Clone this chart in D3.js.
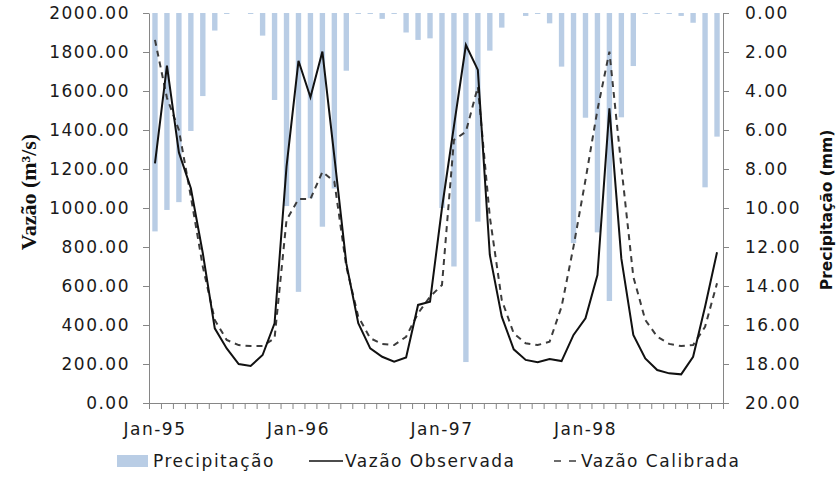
<!DOCTYPE html>
<html>
<head>
<meta charset="utf-8">
<script src="https://cdn.jsdelivr.net/npm/d3@7"></script>
<style>
  body { margin: 0; background: #fff; }
  #chart { width: 837px; height: 478px; }
  .tick text { font-family: "DejaVu Sans", sans-serif; font-size: 17px; letter-spacing: 1.5px; fill: #1a1a1a; }
  .legend text { font-family: "DejaVu Sans", sans-serif; font-size: 17px; letter-spacing: 1.5px; fill: #1a1a1a; }
</style>
</head>
<body>
<div id="chart"></div>
<script>
// Monthly series, Jan-95 .. Dec-98
const months = Array.from({ length: 48 }, (_, i) => i);
const tickLabels = ['Jan-95', 'Jan-96', 'Jan-97', 'Jan-98'];
const tickMonths = [0, 12, 24, 36];

const precipitacao = [
  11.2, 10.1, 9.7, 6.05, 4.26, 0.9, 0.05, 0, 0.05, 1.16, 4.46, 9.9,
  14.3, 9.5, 10.96, 9.0, 2.96, 0.05, 0.05, 0.3, 0.05, 1.0, 1.38, 1.3,
  10.0, 13.0, 17.9, 10.7, 1.93, 0.75, 0, 0.15, 0.05, 0.53, 2.75, 11.8,
  5.37, 11.25, 14.77, 5.35, 2.72, 0.05, 0.05, 0.05, 0.15, 0.5, 8.94, 6.34
];

const vazaoObservada = [
  1229, 1730, 1285, 1101, 768, 383, 280, 200, 190, 246, 409, 1212,
  1755, 1568, 1802, 1263, 716, 409, 280, 237, 212, 234, 503, 520,
  1000, 1420, 1836, 1708, 759, 443, 275, 221, 209, 226, 215, 349,
  434, 656, 1511, 740, 349, 229, 169, 152, 147, 237, 494, 773
];

const vazaoCalibrada = [
  1862, 1565, 1400, 1058, 699, 426, 323, 297, 292, 292, 332, 938,
  1046, 1046, 1186, 1135, 699, 443, 332, 303, 297, 340, 460, 545,
  605, 1349, 1391, 1622, 955, 528, 357, 306, 297, 314, 494, 802,
  1144, 1503, 1802, 1212, 648, 426, 340, 303, 292, 297, 391, 614
];

const vazaoTicks = d3.range(0, 2001, 200);
const precTicks = d3.range(0, 21, 2);

const svg = d3.select('#chart')
  .append('svg')
  .attr('width', 837)
  .attr('height', 478);

const plot = { left: 149, right: 723, top: 13, bottom: 403 };

// Scales
const x = d3.scaleBand()
  .domain(months)
  .range([plot.left, plot.right])
  .paddingInner(0.55)
  .paddingOuter(0.275);

const xEdges = d3.scaleLinear()
  .domain([0, months.length])
  .range([plot.left, plot.right]);

const yLeft = d3.scaleLinear()
  .domain([0, 2000])
  .range([plot.bottom, plot.top]);

const yRight = d3.scaleLinear()
  .domain([0, 20])
  .range([plot.top, plot.bottom]);

const cx = i => x(i) + x.bandwidth() / 2;

// Precipitation bars hanging from the top
svg.append('g')
  .selectAll('rect')
  .data(precipitacao)
  .join('rect')
  .attr('x', (d, i) => x(i))
  .attr('width', x.bandwidth())
  .attr('y', yRight(0))
  .attr('height', d => yRight(d) - yRight(0))
  .attr('fill', '#b9cde5');

// Lines
const line = d3.line()
  .x((d, i) => cx(i))
  .y(d => yLeft(d));

svg.append('path')
  .datum(vazaoCalibrada)
  .attr('d', line)
  .attr('fill', 'none')
  .attr('stroke', '#3c3c3c')
  .attr('stroke-width', 2)
  .attr('stroke-dasharray', '6,5');

svg.append('path')
  .datum(vazaoObservada)
  .attr('d', line)
  .attr('fill', 'none')
  .attr('stroke', '#111')
  .attr('stroke-width', 2);

// Axes
const styleAxis = g => {
  g.select('.domain').attr('stroke', '#868686');
  g.selectAll('.tick line').attr('stroke', '#868686');
};

svg.append('g')
  .attr('transform', `translate(${plot.left},0)`)
  .call(d3.axisLeft(yLeft).tickValues(vazaoTicks).tickSize(6).tickSizeOuter(0).tickPadding(13)
    .tickFormat(d3.format('.2f')))
  .call(styleAxis);

svg.append('g')
  .attr('transform', `translate(${plot.right},0)`)
  .call(d3.axisRight(yRight).tickValues(precTicks).tickSize(6).tickSizeOuter(0).tickPadding(16)
    .tickFormat(d3.format('.2f')))
  .call(styleAxis);

svg.append('g')
  .attr('transform', `translate(0,${plot.bottom})`)
  .call(d3.axisBottom(xEdges).tickValues(d3.range(0, 49)).tickSize(6).tickSizeOuter(0)
    .tickFormat(''))
  .call(styleAxis);

svg.append('g')
  .attr('transform', `translate(0,${plot.bottom})`)
  .call(d3.axisBottom(x).tickValues(tickMonths).tickSize(0).tickPadding(20)
    .tickFormat((d, i) => tickLabels[i]))
  .call(g => g.select('.domain').remove());

// Axis titles
svg.append('text')
  .attr('transform', 'translate(36,192) rotate(-90)')
  .attr('text-anchor', 'middle')
  .attr('font-family', '"Liberation Serif", serif')
  .attr('font-weight', 'bold')
  .attr('font-size', 22)
  .attr('fill', '#111')
  .text('Vazão (m³/s)');

svg.append('text')
  .attr('transform', 'translate(832,210) rotate(-90)')
  .attr('text-anchor', 'middle')
  .attr('font-family', '"DejaVu Sans", sans-serif')
  .attr('font-weight', 'bold')
  .attr('font-size', 15.5)
  .attr('fill', '#111')
  .text('Precipitação (mm)');

// Legend
const legend = svg.append('g').attr('class', 'legend');
const ly = 461;

legend.append('rect')
  .attr('x', 117).attr('y', ly - 6)
  .attr('width', 31).attr('height', 12)
  .attr('fill', '#b9cde5');
legend.append('text').attr('x', 153).attr('y', ly + 6).text('Precipitação');

legend.append('line')
  .attr('x1', 309).attr('x2', 343).attr('y1', ly).attr('y2', ly)
  .attr('stroke', '#111').attr('stroke-width', 1.5);
legend.append('text').attr('x', 345).attr('y', ly + 6).text('Vazão Observada');

legend.append('line')
  .attr('x1', 554).attr('x2', 576).attr('y1', ly).attr('y2', ly)
  .attr('stroke', '#3c3c3c').attr('stroke-width', 1.5)
  .attr('stroke-dasharray', '7,8');
legend.append('text').attr('x', 581).attr('y', ly + 6).text('Vazão Calibrada');
</script>
</body>
</html>
